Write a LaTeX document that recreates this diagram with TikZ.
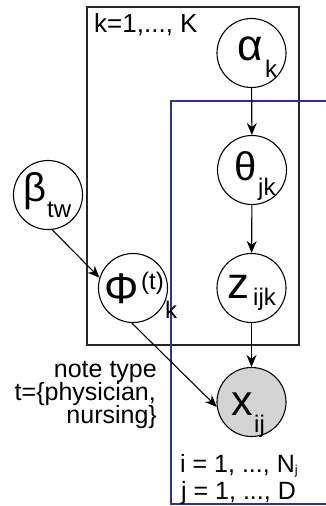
\documentclass[tikz,border=0pt]{standalone}
\usepackage{fontspec}
\setmainfont{Liberation Sans}
\usetikzlibrary{arrows.meta}
\definecolor{plateblue}{RGB}{48,48,150}
\definecolor{obsgray}{RGB}{212,212,212}
\tikzset{
  var/.style={circle,draw=black,line width=1.1pt,minimum size=69pt,inner sep=0pt},
  big/.style={inner sep=0pt,anchor=base west,font=\fontsize{43}{43}\selectfont},
  sub/.style={inner sep=0pt,anchor=base west,font=\fontsize{24}{24}\selectfont},
  lbl/.style={inner sep=0pt,font=\fontsize{25}{25}\selectfont},
  note/.style={inner sep=0pt,anchor=base east,font=\fontsize{25}{25}\selectfont},
  edge/.style={line width=1.1pt,-{Stealth[length=12pt,width=10pt]}},
  plate/.style={line width=1.2pt}
}
\begin{document}
\begin{tikzpicture}[x=1pt,y=-1pt]
\useasboundingbox (0,0) rectangle (325,506);
% plates
\draw[plate,black!85] (87,7) rectangle (299,345);
\draw[plate,plateblue] (326,101) -- (171,101) -- (171,504) -- (326,504);
% variable nodes
\node[var] (a) at (251.5,53) {};
\node[var] (th) at (252,170) {};
\node[var] (z) at (251.5,288) {};
\node[var,fill=obsgray] (x) at (251.5,402) {};
\node[var] (b) at (48,195) {};
\node[var] (phi) at (133,288) {};
% glyphs
\node[big,font=\fontsize{44}{44}\selectfont] (at) at (237,60) {α};
\node[sub] (as) at (265,77) {k};
\node[big,font=\fontsize{40}{40}\selectfont] (tht) at (234,180) {θ};
\node[sub] (ths) at (258,195) {jk};
\node[big,font=\fontsize{40}{40}\selectfont] (bt) at (23,201) {β};
\node[sub] (bs) at (47,217) {tw};
\node[big] (phit) at (104,303) {Φ};
\node[sub] (phisup) at (141,289) {(t)};
\node[sub] (phis) at (165,318) {k};
\node[big,font=\fontsize{44}{44}\selectfont] (zt) at (227,298) {z};
\node[sub] (zs) at (253,305) {ijk};
\node[big] (xt) at (231,415) {x};
\node[sub] (xs) at (254,432) {ij};
% edges
\draw[edge] (a) -- (th);
\draw[edge] (th) -- (z);
\draw[edge] (z) -- (x);
\draw[edge] (b.-83) -- (phi.163);
\draw[edge] (phi.-92) -- (x.188);
% labels
\node[lbl,anchor=base west,font=\fontsize{26}{26}\selectfont] (klab) at (94,32) {k=1,..., K};
\node[note] (n1) at (157,377) {note type};
\node[note] (n2) at (156,400) {t=\{physician,};
\node[note] (n3) at (157,423) {nursing\}};
\node[lbl,anchor=base west] (ilab) at (180,472) {i = 1, ..., N\raisebox{-2pt}{\fontsize{13}{13}\selectfont j}};
\node[lbl,anchor=base west] (jlab) at (181,499) {j = 1, ..., D};
\end{tikzpicture}
\end{document}
